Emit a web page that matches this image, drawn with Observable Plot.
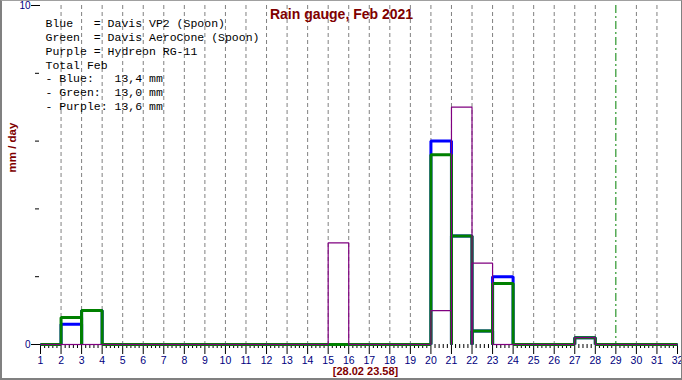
<!DOCTYPE html>
<html>
<head>
<meta charset="utf-8">
<script src="https://cdn.jsdelivr.net/npm/d3@7"></script>
<script src="https://cdn.jsdelivr.net/npm/@observablehq/plot@0.6"></script>
<style>
  html, body { margin: 0; padding: 0; background: #fff; }
  #wrap { position: relative; width: 682px; height: 380px; overflow: hidden; }
  #wrap svg { display: block; }
  #wrap svg text { white-space: pre; }
  #border { position: absolute; left: 0; top: 0; width: 682px; height: 380px; box-sizing: border-box;
            border-left: 2px solid #808080; border-bottom: 2px solid #808080;
            border-top: 1px solid #a0a0a0; border-right: 1px solid #808080; pointer-events: none; }
</style>
</head>
<body>
<div id="wrap"><div id="border"></div></div>
<script>
// ---- data (mm per day, Feb 2021; days 29-31 shown empty) ----
const days = [1,2,3,4,5,6,7,8,9,10,11,12,13,14,15,16,17,18,19,20,21,22,23,24,25,26,27,28,29,30,31];
const blueValues   = [0,0.6,1.0,0,0,0,0,0,0,0,0,0,0,0,0,0,0,0,0,6.0,3.2,0.4,2.0,0,0,0,0.2,0,0,0,0];
const greenValues  = [0,0.8,1.0,0,0,0,0,0,0,0,0,0,0,0,0,0,0,0,0,5.6,3.2,0.4,1.8,0,0,0,0.2,0,0,0,0];
const purpleValues = [0,0,0,0,0,0,0,0,0,0,0,0,0,0,3.0,0,0,0,0,1.0,7.0,2.4,0,0,0,0,0.2,0,0,0,0];
const xTicks = [1,2,3,4,5,6,7,8,9,10,11,12,13,14,15,16,17,18,19,20,21,22,23,24,25,26,27,28,29,30,31,32];
const gridDays = [2,3,4,5,6,7,8,9,10,11,12,13,14,15,16,17,18,19,20,21,22,23,24,25,26,27,28,30,31];
const markerDay = [29];
const yLabelTicks = [0, 10];
const yMinorTicks = [2, 4, 6, 8];
const titleText = "Rain gauge, Feb 2021";
const yLabelText = "mm / day";
const stampText = "[28.02 23.58]";
const legendLines = [
  "Blue   = Davis VP2 (Spoon)",
  "Green  = Davis AeroCone (Spoon)",
  "Purple = Hydreon RG-11",
  "Total Feb",
  "- Blue:   13,4 mm",
  "- Green:  13,0 mm",
  "- Purple: 13,6 mm"
];

// ---- build per-day boxes (open at bottom edge drawn as baseline) ----
function boxes(values) {
  const out = [];
  days.forEach((d, i) => {
    const v = values[i];
    out.push({x: d, y: 0, z: d}, {x: d, y: v, z: d}, {x: d + 1, y: v, z: d}, {x: d + 1, y: 0, z: d});
  });
  return out;
}
const minorX = [];
days.forEach(d => { for (let k = 1; k < 5; k++) minorX.push(d + k / 5); });

const chart = Plot.plot({
  width: 682,
  height: 380,
  marginLeft: 40,
  marginRight: 5,
  marginTop: 5,
  marginBottom: 36,
  style: {fontFamily: "Liberation Sans, Arial, sans-serif", fontSize: "10.5px", background: "white", overflow: "visible"},
  x: {domain: [1, 32]},
  y: {domain: [0, 10]},
  marks: [
    Plot.ruleX(gridDays, {stroke: "#808080", strokeDasharray: "4,3", strokeWidth: 1}),
    Plot.ruleX(markerDay, {stroke: "#008000", strokeDasharray: "8,3,2,3", strokeWidth: 1}),
    Plot.axisX({ticks: minorX, tickSize: 4, tickFormat: () => "", label: null, stroke: "black"}),
    Plot.axisX({ticks: xTicks, tickSize: 10, tickPadding: 2, label: null, stroke: "black", fill: "#000080", fontSize: 10.5, tickFormat: d3.format("d")}),
    Plot.axisY({ticks: yMinorTicks, tickSize: 4, tickFormat: () => "", label: null, stroke: "black", dx: -1}),
    Plot.axisY({ticks: yLabelTicks, tickSize: 9, tickPadding: 1, label: null, stroke: "black", fill: "#000080", fontSize: 10}),
    Plot.line(boxes(blueValues), {x: "x", y: "y", z: "z", stroke: "#0000ff", strokeWidth: 3, strokeLinejoin: "miter", strokeLinecap: "butt"}),
    Plot.line(boxes(greenValues), {x: "x", y: "y", z: "z", stroke: "#008000", strokeWidth: 3, strokeLinejoin: "miter", strokeLinecap: "butt"}),
    Plot.line(boxes(purpleValues), {x: "x", y: "y", z: "z", stroke: "#800080", strokeWidth: 1.2, strokeLinejoin: "miter", strokeLinecap: "butt"}),
    Plot.text([legendLines.join("\n")], {frameAnchor: "top-left", dx: 5, dy: 12, lineAnchor: "top", textAnchor: "start",
      lineHeight: 1.2, fontFamily: "Liberation Mono, Courier New, monospace", fontSize: 11.5, fill: "black"}),
    Plot.text([titleText], {frameAnchor: "top", dx: -17.5, dy: 9, lineAnchor: "middle", fontSize: 14, fontWeight: "bold", fill: "#800000"}),
    Plot.text([yLabelText], {frameAnchor: "left", dx: -28, dy: -2.5, rotate: -90, fontSize: 11.5, fontWeight: "bold", fill: "#800000"}),
    Plot.text([stampText], {frameAnchor: "bottom", dx: 6.5, dy: 26.5, lineAnchor: "middle", fontSize: 11, fontWeight: "bold", fill: "#800000"})
  ]
});
document.getElementById("wrap").insertBefore(chart, document.getElementById("border"));
</script>
</body>
</html>
